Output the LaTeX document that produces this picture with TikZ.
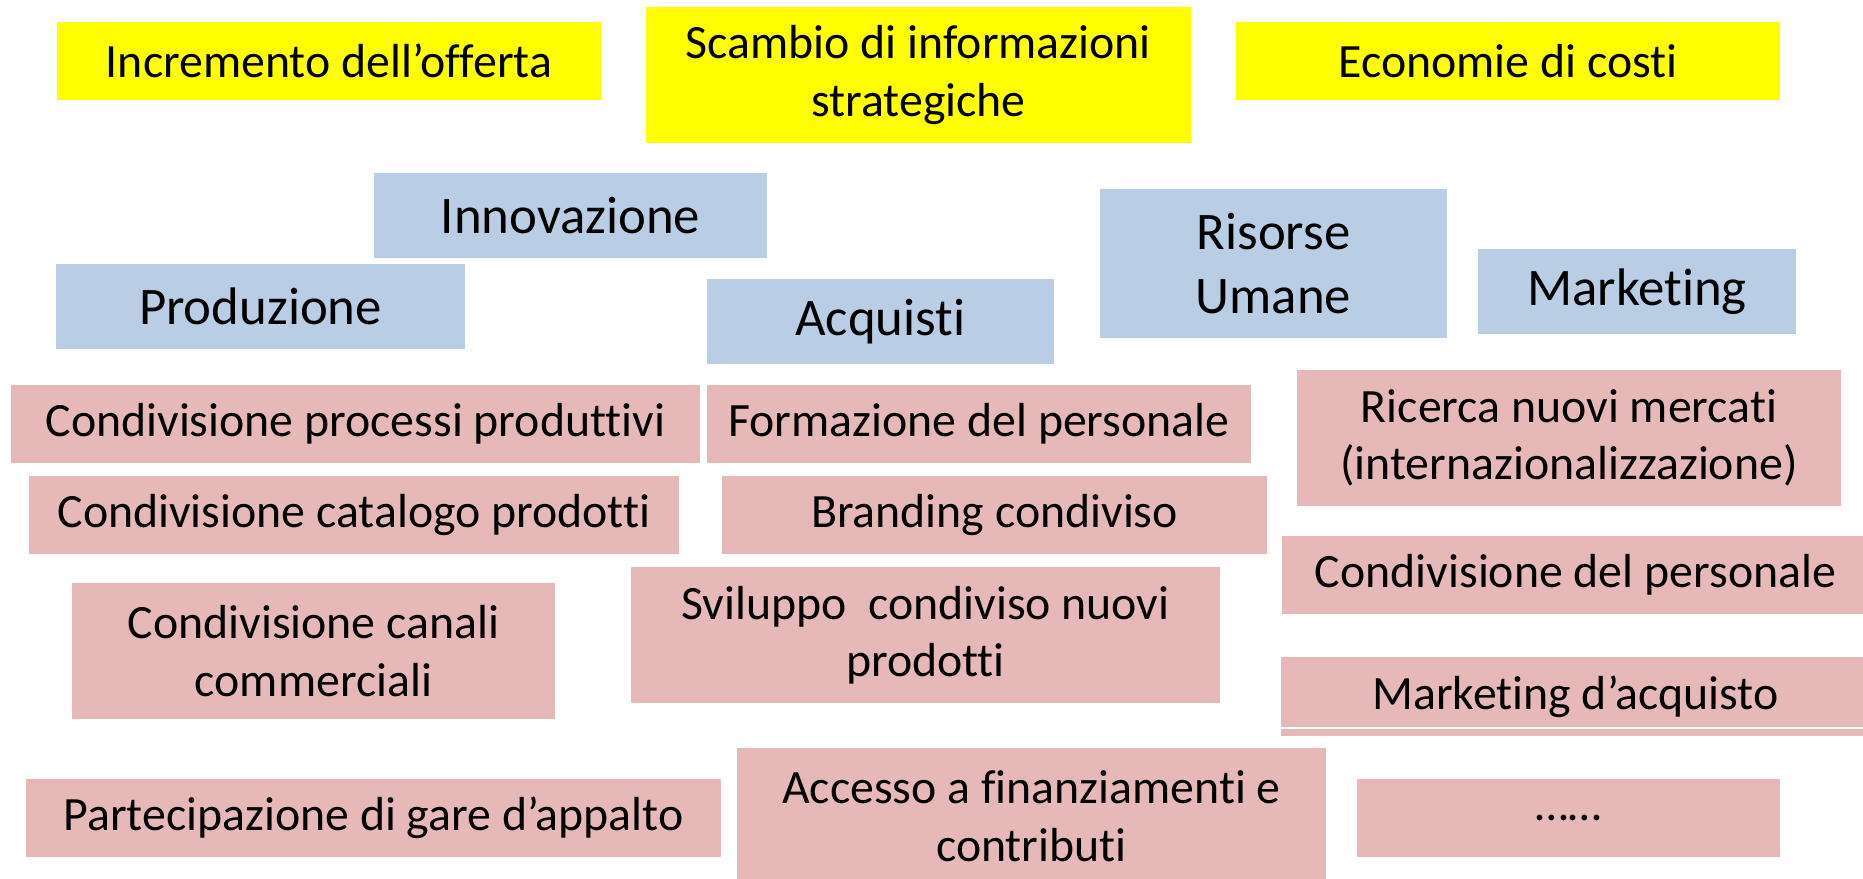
\documentclass[tikz,border=0pt]{standalone}
\usepackage{fontspec}
\setmainfont{Carlito}[Ligatures=NoCommon]
\usepackage{tikz}

\definecolor{giallo}{RGB}{255,255,0}
\definecolor{azzurro}{RGB}{185,205,229}
\definecolor{rosa}{RGB}{230,185,184}

\begin{document}
\begin{tikzpicture}[x=1pt,y=-1pt,
	every node/.style={inner sep=0pt,outer sep=0pt,align=center},
	obiettivo/.style={fill=giallo,font=\fontsize{47.8}{57.5}\selectfont},
	area/.style={fill=azzurro,font=\fontsize{52.8}{64}\selectfont},
	attivita/.style={fill=rosa,font=\fontsize{47.8}{57.5}\selectfont}]
	\useasboundingbox (0,0) rectangle (1863,878);

	% obiettivi
	\node[obiettivo,minimum width=544pt,minimum height=78pt]  (incr)  at (329, 61)     {Incremento dell’offerta};
	\node[obiettivo,minimum width=545pt,minimum height=136pt] (scamb) at (918.5, 75)   {Scambio di informazioni\\strategiche};
	\node[obiettivo,minimum width=544pt,minimum height=78pt]  (econ)  at (1508, 61)    {Economie di costi};

	% aree
	\node[area,minimum width=393pt,minimum height=85pt]  (innov) at (570.5, 215.5)  {Innovazione};
	\node[area,minimum width=409pt,minimum height=85pt]  (prod)  at (260.5, 306.5)  {Produzione};
	\node[area,minimum width=347pt,minimum height=85pt]  (acq)   at (880.5, 321.5)  {Acquisti};
	\node[area,minimum width=347pt,minimum height=149pt] (hr)    at (1273.5, 263.5) {Risorse\\Umane};
	\node[area,minimum width=318pt,minimum height=85pt]  (mkt)   at (1637, 291.5)   {Marketing};

	% attivita
	\node[attivita,minimum width=689pt,minimum height=78pt]  (proc)   at (355.5, 424)  {Condivisione processi produttivi};
	\node[attivita,minimum width=544pt,minimum height=78pt]  (form)   at (979, 424)    {Formazione del personale};
	\node[attivita,minimum width=544pt,minimum height=136pt] (ricer)  at (1569, 438)   {Ricerca nuovi mercati\\(internazionalizzazione)};
	\node[attivita,minimum width=650pt,minimum height=78pt]  (catal)  at (354, 515)    {Condivisione catalogo prodotti};
	\node[attivita,minimum width=545pt,minimum height=78pt]  (brand)  at (994.5, 515)  {Branding condiviso};
	\node[attivita,minimum width=587pt,minimum height=78pt]  (pers)   at (1575.5, 575) {Condivisione del personale};
	\node[attivita,minimum width=483pt,minimum height=136pt] (canali) at (313.5, 651)  {Condivisione canali\\commerciali};
	\node[attivita,minimum width=589pt,minimum height=136pt] (svil)   at (925.5, 635)  {Sviluppo~ condiviso nuovi\\prodotti};
	\node[attivita,minimum width=589pt,minimum height=79pt]  (mktacq) at (1575.5, 696.5) {Marketing d’acquisto};
	\node[attivita,minimum width=695pt,minimum height=78pt]  (gare)   at (373.5, 818)  {Partecipazione di gare d’appalto};
	\node[attivita,minimum width=589pt,minimum height=136pt] (fin)    at (1031.5, 816) {Accesso a finanziamenti e\\contributi};
	\node[attivita,minimum width=423pt,minimum height=78pt]  (altro)  at (1568.5, 818) {……};

	\draw[white,line width=1.5pt] ([yshift=8pt]mktacq.south west) -- ([yshift=8pt]mktacq.south east);

\end{tikzpicture}
\end{document}
